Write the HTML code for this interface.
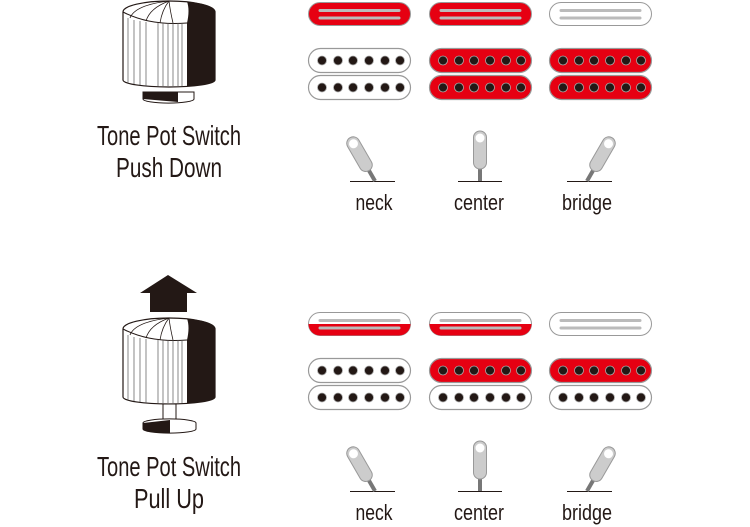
<!DOCTYPE html>
<html><head><meta charset="utf-8"><style>html,body{margin:0;padding:0;background:#fff}svg{display:block}</style></head>
<body>
<svg width="750" height="527" viewBox="0 0 750 527" xmlns="http://www.w3.org/2000/svg">
<defs>
<g id="knob">
  <path d="M-47,12 A46,11 0 0 1 45,12 L45,80 A46,7 0 0 1 -47,80 Z" fill="#fff" stroke="#231815" stroke-width="1.2"/>
  <path d="M17,1.5 A46,11 0 0 1 45,12 L45,80 A46,7 0 0 1 17,86.5 L17,23 Q20,10 17,1.5 Z" fill="#231815"/>
  <path d="M-47,12 Q-20,26 17,23" fill="none" stroke="#231815" stroke-width="1"/>
  <path d="M-1,1 Q-20,8 -24,21 M-1,1 Q-8,10 -10,23 M-1,1 Q0,10 3,23 M-1,1 Q-35,5 -40,18" fill="none" stroke="#231815" stroke-width="0.8"/>
  <g stroke="#555" stroke-width="0.7">
    <line x1="-42" y1="18" x2="-42" y2="83"/><line x1="-36" y1="20" x2="-36" y2="84"/><line x1="-30" y1="21" x2="-30" y2="85"/>
    <line x1="-24" y1="22" x2="-24" y2="86"/><line x1="-12" y1="23" x2="-12" y2="86"/><line x1="-7" y1="23" x2="-7" y2="86"/>
    <line x1="-2" y1="23" x2="-2" y2="86"/><line x1="3" y1="23" x2="3" y2="86"/><line x1="8" y1="23" x2="8" y2="86"/><line x1="12" y1="23" x2="12" y2="86"/>
  </g>
</g>
<g id="hum">
  <rect x="0.5" y="0.5" width="102" height="24" rx="12" stroke="#999" stroke-width="1.2"/>
  <g fill="#231815" stroke="#aaa" stroke-width="0.8">
    <circle cx="14" cy="12.5" r="4.5"/><circle cx="30" cy="12.5" r="4.5"/><circle cx="45" cy="12.5" r="4.5"/>
    <circle cx="61" cy="12.5" r="4.5"/><circle cx="77" cy="12.5" r="4.5"/><circle cx="92" cy="12.5" r="4.5"/>
  </g>
</g>
<g id="lines">
  <line x1="12" y1="8.5" x2="91" y2="8.5" stroke="#bbb" stroke-width="3" stroke-linecap="round"/>
  <line x1="12" y1="16" x2="91" y2="16" stroke="#bbb" stroke-width="3" stroke-linecap="round"/>
</g>
<g id="lever">
  <line x1="0" y1="0" x2="0" y2="-14" stroke="#777" stroke-width="4"/>
  <rect x="-6.5" y="-50" width="13" height="38" rx="6.5" fill="#ccc" stroke="#999" stroke-width="1"/>
  <circle cx="0" cy="-43" r="4.5" fill="#fff"/>
</g>
</defs>

<!-- Top knob -->
<g transform="translate(170,0)"><use href="#knob"/>
  <path d="M-27,92 L24,92 L24,99 A25,4 0 0 1 -27,99 Z" fill="#fff" stroke="#231815"/>
  <path d="M-27,92 L8,92 L8,102 L-27,99 Z" fill="#231815"/>
</g>
<!-- Bottom knob with arrow -->
<polygon points="168,275 197,293 187,293 187,312 150,312 150,293 140,293" fill="#231815"/>
<g transform="translate(170,317)"><use href="#knob"/></g>
<rect x="163" y="404" width="13" height="17" fill="#fff" stroke="#231815"/>
<g>
  <path d="M143,423 A26,4 0 0 1 196,423 L196,429 A26,4 0 0 1 143,429 Z" fill="#fff" stroke="#231815"/>
  <path d="M143,423 L170,420 L170,433 A26,4 0 0 1 143,429 Z" fill="#231815"/>
</g>

<g font-family="'Liberation Sans Narrow','Liberation Sans',sans-serif" fill="#231815" font-size="28" text-anchor="middle">
  <text x="169" y="145" textLength="144" lengthAdjust="spacingAndGlyphs">Tone Pot Switch</text>
  <text x="169" y="177" textLength="106" lengthAdjust="spacingAndGlyphs">Push Down</text>
  <text x="169" y="476" textLength="144" lengthAdjust="spacingAndGlyphs">Tone Pot Switch</text>
  <text x="169" y="508" textLength="70" lengthAdjust="spacingAndGlyphs">Pull Up</text>
</g>

<!-- Top pickups -->
<g transform="translate(308,2)"><rect x="0.5" y="0.5" width="102" height="23" rx="11.5" fill="#e60012" stroke="#999"/><use href="#lines"/></g>
<g transform="translate(429,2)"><rect x="0.5" y="0.5" width="102" height="23" rx="11.5" fill="#e60012" stroke="#999"/><use href="#lines"/></g>
<g transform="translate(549,2)"><rect x="0.5" y="0.5" width="102" height="23" rx="11.5" fill="#fff" stroke="#999"/><use href="#lines"/></g>

<use href="#hum" x="308" y="48" fill="#fff"/><use href="#hum" x="308" y="75" fill="#fff"/>
<use href="#hum" x="429" y="48" fill="#e60012"/><use href="#hum" x="429" y="75" fill="#e60012"/>
<use href="#hum" x="549" y="48" fill="#e60012"/><use href="#hum" x="549" y="75" fill="#e60012"/>

<!-- Bottom pickups -->
<clipPath id="half"><rect x="0" y="12" width="103" height="14"/></clipPath>
<g transform="translate(308,312)"><rect x="0.5" y="0.5" width="102" height="23" rx="11.5" fill="#fff" stroke="#999"/><rect x="0.5" y="0.5" width="102" height="23" rx="11.5" fill="#e60012" clip-path="url(#half)"/><use href="#lines"/></g>
<g transform="translate(429,312)"><rect x="0.5" y="0.5" width="102" height="23" rx="11.5" fill="#fff" stroke="#999"/><rect x="0.5" y="0.5" width="102" height="23" rx="11.5" fill="#e60012" clip-path="url(#half)"/><use href="#lines"/></g>
<g transform="translate(549,312)"><rect x="0.5" y="0.5" width="102" height="23" rx="11.5" fill="#fff" stroke="#999"/><use href="#lines"/></g>

<use href="#hum" x="308" y="358" fill="#fff"/><use href="#hum" x="308" y="385" fill="#fff"/>
<use href="#hum" x="429" y="358" fill="#e60012"/><use href="#hum" x="429" y="385" fill="#fff"/>
<use href="#hum" x="549" y="358" fill="#e60012"/><use href="#hum" x="549" y="385" fill="#fff"/>

<!-- Switches -->
<g stroke="#231815" stroke-width="1">
  <line x1="350" y1="181.5" x2="395" y2="181.5"/><line x1="458" y1="181.5" x2="502" y2="181.5"/><line x1="567" y1="181.5" x2="612" y2="181.5"/>
  <line x1="350" y1="491.5" x2="395" y2="491.5"/><line x1="458" y1="491.5" x2="502" y2="491.5"/><line x1="567" y1="491.5" x2="612" y2="491.5"/>
</g>
<g transform="translate(375,181) rotate(-30)"><use href="#lever"/></g>
<g transform="translate(480,181)"><use href="#lever"/></g>
<g transform="translate(587,181) rotate(30)"><use href="#lever"/></g>
<g transform="translate(375,491) rotate(-30)"><use href="#lever"/></g>
<g transform="translate(480,491)"><use href="#lever"/></g>
<g transform="translate(587,491) rotate(30)"><use href="#lever"/></g>

<g font-family="'Liberation Sans Narrow','Liberation Sans',sans-serif" fill="#231815" font-size="22" text-anchor="middle">
  <text x="374" y="210" textLength="37" lengthAdjust="spacingAndGlyphs">neck</text>
  <text x="479" y="210" textLength="50" lengthAdjust="spacingAndGlyphs">center</text>
  <text x="587" y="210" textLength="50" lengthAdjust="spacingAndGlyphs">bridge</text>
  <text x="374" y="520" textLength="37" lengthAdjust="spacingAndGlyphs">neck</text>
  <text x="479" y="520" textLength="50" lengthAdjust="spacingAndGlyphs">center</text>
  <text x="587" y="520" textLength="50" lengthAdjust="spacingAndGlyphs">bridge</text>
</g>
</svg>
</body></html>
